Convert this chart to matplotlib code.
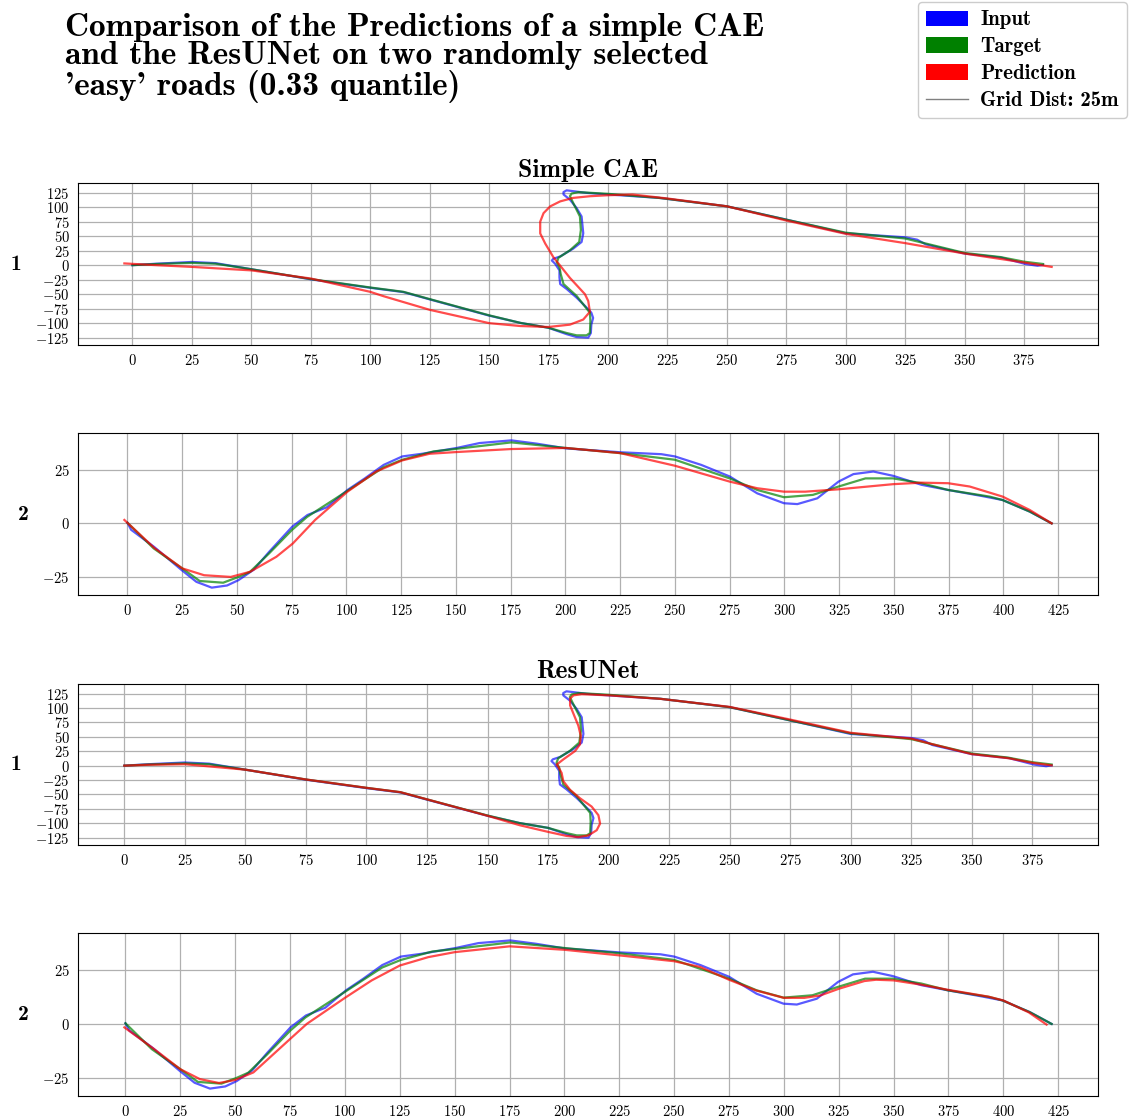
import matplotlib
matplotlib.use("Agg")
import matplotlib.pyplot as plt
from matplotlib.patches import Patch
from matplotlib.lines import Line2D
from matplotlib.font_manager import FontProperties

plt.rcParams['font.family'] = ['cmr10', 'DejaVu Serif']
plt.rcParams['mathtext.fontset'] = 'cm'
plt.rcParams['axes.formatter.use_mathtext'] = True
plt.rcParams['axes.unicode_minus'] = True

# ---------------- data ----------------
# Road 1 (shared input / target)
road1_input_x = [0, 10, 25, 35, 50, 75, 100, 114, 125, 150, 163.2, 175, 182.6, 186.8, 191.7, 192.8, 193,
                 193.75, 193, 191.7, 186.8, 182.6, 179.9, 179.6, 179.6, 177.8, 176.4, 177, 179.9, 185.4,
                 188.9, 189.6, 188.9, 186.8, 184, 181.3, 181.3, 182.6, 185.4, 191, 200, 221.5, 250, 275,
                 300, 325, 330, 333.6, 350, 365.5, 375.6, 380.7, 383]
road1_input_y = [0, 2.5, 5.5, 3.5, -7, -24.4, -39, -46.5, -59, -87, -99.6, -108, -119, -124, -125, -117,
                 -102.6, -91, -82, -76, -56, -41, -32.6, -21, -9, 2.3, 8, 11, 15, 28.6, 40, 55, 84, 98.5,
                 113, 122, 126, 129, 127.6, 124.7, 122, 116, 101.5, 78.5, 55, 48, 44, 36, 20, 13, 2, -1, 0.5]

road1_target_x = [0, 10, 25, 35, 50, 75, 100, 114, 125, 150, 163.2, 175, 182.6, 186.8, 191, 192.4, 192.6,
                  192.4, 186.8, 181.3, 180.1, 179.6, 178.5, 179.2, 184, 187.9, 188.6, 188.2, 185.4, 184,
                  184.7, 187.5, 200, 221.5, 250, 275, 300, 325, 333, 350, 365, 375, 383]
road1_target_y = [0, 2, 4, 2.5, -7, -24, -38.5, -46, -58.5, -86.5, -99.6, -108, -117, -121, -121, -117, -97,
                  -82, -53, -32.6, -15, -3.5, 5, 12.8, 25.6, 40, 60.6, 84, 107, 119, 123.5, 126, 123, 116,
                  101.5, 78.5, 56, 46, 38, 21, 14, 6, 2]

road1_cae_x = [-3.4, 10, 25, 50, 75, 100, 105.6, 125, 150, 163.2, 175, 184, 189.6, 192.4, 191.7, 190.3, 184,
               177, 173.6, 171.5, 171.5, 172.9, 175.7, 179.9, 185.4, 192.4, 200, 210.4, 225, 250, 275, 300,
               325, 350, 375, 386.6]
road1_cae_y = [3, 0, -3, -9, -23, -46, -53.5, -77, -100, -105, -106.6, -102.6, -93.8, -80.4, -61.8, -50, -22,
               14, 37.3, 54.8, 75, 89.7, 101.4, 110, 116, 118.9, 120.6, 121.8, 115, 101.5, 77, 54, 38, 20,
               4.6, -3]

road1_res_x = [0, 10, 25, 50, 75, 100, 114, 125, 150, 163.4, 175.1, 182.7, 187.5, 191.7, 195.1, 196.5, 195.8,
               193, 188.2, 184.1, 181.3, 180.6, 179.3, 178.6, 181.3, 186.2, 188.2, 188.5, 187.5, 185.5,
               184.1, 184.1, 185.5, 188.9, 200, 221.3, 250, 275, 300, 325, 333, 350, 365, 375, 383]
road1_res_y = [0, 1.5, 2.5, -7, -24, -38.5, -46, -58.5, -87, -103.5, -115, -122, -124, -121, -112, -100.5,
               -86, -71, -56.6, -42, -27, -12.6, -2.6, 2, 10.8, 25.5, 37, 52, 69.5, 90, 104.6, 116.4, 122,
               124, 122, 116, 102, 80, 57, 47, 38, 20, 13, 5, 0.5]

# Road 2 (shared input / target)
road2_input_x = [0, 1.7, 12.2, 25, 31.5, 38.5, 45.5, 50.7, 57.7, 64.7, 75.2, 82.2, 91, 100.5, 108.4, 117,
                 125.5, 134.6, 150.3, 160.8, 175.3, 187, 200.3, 225, 243.8, 250, 262, 275, 287.6, 299.8,
                 305.9, 315, 324.7, 331.5, 340.6, 349.6, 362.6, 374.7, 390, 399.6, 412, 422]
road2_input_y = [0.3, -3, -11, -22, -27.3, -30, -29, -26.5, -21.6, -13.3, -1.6, 3.9, 7.5, 15.6, 21, 27.3,
                 31.25, 32.5, 35.2, 37.5, 38.75, 37.2, 35, 33.2, 32.3, 31.25, 27.3, 21.9, 14, 9.4, 9, 11.7,
                 19.5, 23, 24.2, 22.2, 18, 15.6, 12.8, 10.9, 5.5, 0]

road2_target_x = [0, 12, 25, 33, 43.7, 50.7, 56, 64.7, 75.2, 82, 100.5, 117, 125.5, 139.8, 150.3, 175.3,
                  200.3, 225, 250, 275, 287.6, 299.8, 313, 324.7, 337, 349.6, 362.6, 374.7, 393.7, 399.6,
                  412, 422]
road2_target_y = [0.3, -11.7, -21, -26.9, -27.7, -25, -22.6, -14, -3, 3, 15.2, 26.2, 29.7, 33.6, 34.8, 37.8,
                  35.2, 32.8, 29.7, 21, 15.6, 12.2, 13.3, 17.2, 21, 21, 18.75, 15.6, 12.5, 10.9, 5.5, 0]

road2_cae_x = [-1.4, 12.2, 25, 35, 47.2, 56, 68, 75.5, 85.7, 100.5, 113.6, 125.5, 138, 150.3, 175.3, 200.3,
               225, 250, 275, 287.6, 299.8, 309.5, 324.7, 349.6, 362.6, 374.7, 384.6, 399.6, 412, 422]
road2_cae_y = [1.6, -11.4, -21, -24.2, -25, -22.6, -15.6, -9.4, 1.6, 14.8, 24.2, 29.4, 32.5, 33.3, 34.7,
               35.2, 32.8, 26.9, 19.5, 16.4, 14.8, 14.8, 15.9, 18.3, 19, 18.75, 17.2, 12.5, 6.25, 0]

road2_res_x = [-0.5, 13, 25, 33.9, 42.6, 50, 58.3, 75, 82.6, 100, 112.2, 125, 138, 150, 175, 200, 225, 250,
               261.9, 275, 287.4, 300, 309.3, 316.6, 325, 336.7, 342, 350, 362, 375, 393, 400, 411.5, 419.7]
road2_res_y = [-1.6, -11.6, -21, -25.6, -27.4, -26, -22.5, -7, 0, 12.1, 20.2, 27.1, 31, 33.3, 36, 34.4,
               31.8, 29.1, 26.4, 20.5, 15.5, 12.1, 12.1, 13.2, 16.3, 19.9, 20.5, 20.2, 18.3, 15.8, 12.7,
               10.9, 5.4, -0.3]

# tick positions (grid distance 25 m)
road1_xticks = [0, 25, 50, 75, 100, 125, 150, 175, 200, 225, 250, 275, 300, 325, 350, 375]
road1_yticks = [-125, -100, -75, -50, -25, 0, 25, 50, 75, 100, 125]
road2_xticks = [0, 25, 50, 75, 100, 125, 150, 175, 200, 225, 250, 275, 300, 325, 350, 375, 400, 425]
road2_yticks = [-25, 0, 25]

model_names = ["Simple CAE", "ResUNet"]
road_labels = ["1", "2"]
legend_labels = ["Input", "Target", "Prediction", "Grid Dist: 25m"]
title_text = ("Comparison of the Predictions of a simple CAE\n"
              "and the ResUNet on two randomly selected\n"
              "'easy' roads (0.33 quantile)")

panels = [
    (road1_input_x, road1_input_y, road1_target_x, road1_target_y, road1_cae_x, road1_cae_y,
     road1_xticks, road1_yticks),
    (road2_input_x, road2_input_y, road2_target_x, road2_target_y, road2_cae_x, road2_cae_y,
     road2_xticks, road2_yticks),
    (road1_input_x, road1_input_y, road1_target_x, road1_target_y, road1_res_x, road1_res_y,
     road1_xticks, road1_yticks),
    (road2_input_x, road2_input_y, road2_target_x, road2_target_y, road2_res_x, road2_res_y,
     road2_xticks, road2_yticks),
]

# ---------------- figure ----------------
W, H = 1129, 1120
fig = plt.figure(figsize=(W / 100, H / 100), dpi=100)

bold = 'cmb10'
rects_px = [(183, 345), (433, 595), (684, 845), (933, 1096)]
left_px, right_px = 78, 1098

for i, ((ix, iy, tx, ty, px, py, xt, yt), (top, bot)) in enumerate(zip(panels, rects_px)):
    ax = fig.add_axes([left_px / W, 1 - bot / H, (right_px - left_px) / W, (bot - top) / H])
    ax.plot(ix, iy, color='blue', lw=1.6, alpha=0.65)
    ax.plot(tx, ty, color='green', lw=1.6, alpha=0.7)
    ax.plot(px, py, color='red', lw=1.6, alpha=0.7)
    ax.set_xticks(xt)
    ax.set_yticks(yt)
    ax.grid(True, color='#b0b0b0', lw=0.9)
    ax.set_axisbelow(True)
    ax.tick_params(length=0, labelsize=10.5, pad=6)
    ax.set_ylabel(road_labels[i % 2], rotation=0, fontfamily=bold, fontsize=15.5,
                  ha='right', va='center', labelpad=10)
    if i % 2 == 0:
        ax.set_title(model_names[i // 2], fontfamily=bold, fontsize=18.5, pad=4)

fig.text(65 / W, 1 - 13 / H, title_text, fontfamily=bold, fontsize=24,
         ha='left', va='top', linespacing=0.97)

handles = [Patch(facecolor='blue', label=legend_labels[0]),
           Patch(facecolor='green', label=legend_labels[1]),
           Patch(facecolor='red', label=legend_labels[2]),
           Line2D([], [], color='gray', lw=1, label=legend_labels[3])]
fig.legend(handles=handles, loc='upper right', bbox_to_anchor=(1.0, 1.0),
           prop=FontProperties(family=bold, size=15), handlelength=2.0, handleheight=0.75,
           labelspacing=0.38, handletextpad=0.6, borderpad=0.4,
           borderaxespad=0.1, framealpha=1, fancybox=True)

fig.savefig("out.png", dpi=100)
